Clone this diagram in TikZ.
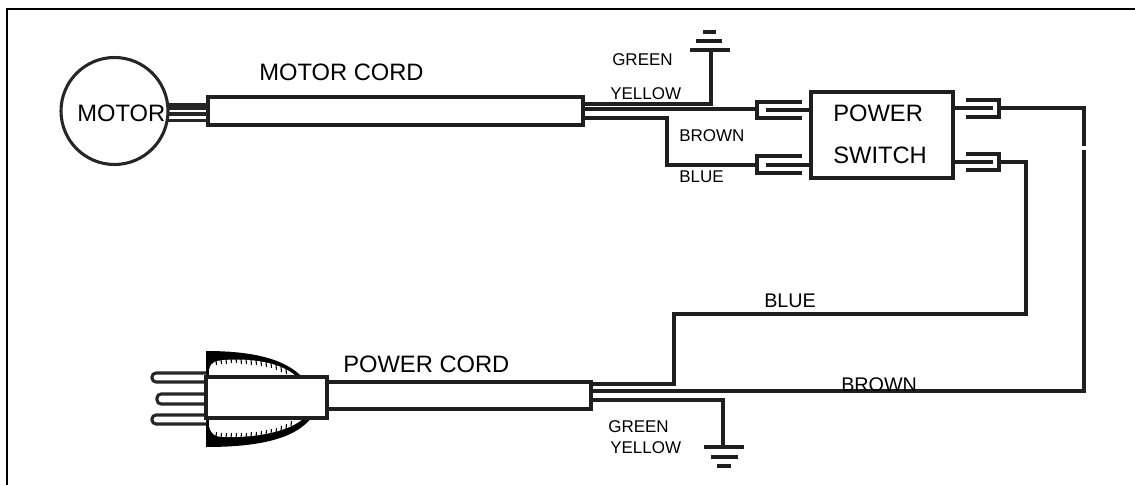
\documentclass[tikz,border=0pt]{standalone}
\usepackage{fontspec}
\setmainfont{Liberation Sans}
\begin{document}
\begin{tikzpicture}[x=0.75pt,y=-0.75pt,
  wire/.style={draw=black!88,line width=2.3pt,line join=miter},
  box/.style={draw=black!88,line width=2.3pt,fill=white,inner sep=0pt,outer sep=0pt,rectangle},
  big/.style={inner sep=0pt,anchor=base west,font=\fontsize{17.8}{20}\selectfont},
  mid/.style={inner sep=0pt,anchor=base west,font=\fontsize{14.8}{17}\selectfont},
  small/.style={inner sep=0pt,anchor=base west,font=\fontsize{12.75}{15}\selectfont},
  bar/.style={draw=black!88,line width=2.3pt},
  prong/.style={draw=black!85,line width=2.3pt,fill=white,rounded corners=3pt},
  tick/.style={draw=black,line width=0.8pt}]
\useasboundingbox (0,0) rectangle (1135,485);
\fill[white] (0,0) rectangle (1135,485);
\draw[black,line width=1.8pt] (7,485) -- (7,9) -- (1135,9);

% --- motor
\node[draw=black!85,line width=2.3pt,circle,minimum size=80.25pt,inner sep=0pt,outer sep=0pt] (motor) at (114.5,111) {};
\node[box,minimum width=281.25pt,minimum height=21pt,anchor=north west] (mcord) at (208,97) {};
\foreach \yy in {104.5,108,114,120.5}
  \draw[draw=black!85,line width=2.3pt] (167,\yy) -- (208,\yy);

% --- switch
\node[box,minimum width=106.5pt,minimum height=64.5pt,anchor=north west] (sw) at (811,92) {};

% --- left spade connectors
\coordinate (lu1) at (757,110);
\coordinate (lu2) at (757,165);
\draw[wire] (802,102) -- (757,102) -- (757,118) -- (802,118);
\draw[wire] (802,156) -- (757,156) -- (757,173) -- (802,173);
\draw[wire] (766,110) -- (sw.west |- lu1);
\draw[wire] (766,165) -- (sw.west |- lu2);

% --- right spade connectors
\coordinate (ru1) at (999,108);
\coordinate (ru2) at (999,162);
\draw[wire] (966,100) -- (999,100) -- (999,117) -- (966,117);
\draw[wire] (966,154) -- (999,154) -- (999,170) -- (966,170);
\draw[wire] (sw.east |- ru1) -- (993,108);
\draw[wire] (sw.east |- ru2) -- (993,162);

% --- motor cord wires
\coordinate (mg) at (711,104);
\coordinate (mgt) at (711,50);
\draw[wire] (mcord.east |- mg) -- (mg) -- (mgt);
\draw[wire] (mcord.east |- 0,109) -- (lu1 |- 0,109);
\coordinate (mb1) at (667,118);
\coordinate (mb2) at (667,165);
\draw[wire] (mcord.east |- mb1) -- (mb1) -- (mb2) -- (lu2);
\draw[bar] (690,50) -- (730,50);
\draw[bar,line width=3pt] (696,41) -- (722,41);
\draw[bar,line width=3pt] (703,32) -- (716,32);

% --- plug
\fill[black] (206,351) .. controls (250,351) and (285,358) .. (303,378) -- (206,378) -- cycle;
\fill[black] (206,447) .. controls (255,447) and (295,440) .. (312,417) -- (206,417) -- cycle;
\fill[white] (209,376) -- (209,370) .. controls (211,361) and (216,361) .. (224,360)
  .. controls (250,358) and (280,362) .. (296,376) -- cycle;
\fill[white] (209,418) -- (209,426) .. controls (211,435) and (216,437) .. (224,437)
  .. controls (258,438) and (290,431) .. (304,418) -- cycle;
\foreach \xx/\yy in {216/361,221/360,226/360,231/359,236/359,241/360,246/360,251/361,256/361,261/362,266/363,271/364,276/366,281/368,286/370}
  \draw[tick] (\xx,\yy-1) -- (\xx+.5,\yy+4);
\foreach \xx/\yy in {216/436,221/437,226/437,231/437,236/437,241/437,246/437,251/436,256/436,261/435,266/434,271/433,276/432,281/430,286/428,291/425}
  \draw[tick] (\xx,\yy+1) -- (\xx+.5,\yy-4);
\draw[prong] (206,373) -- (152,373) -- (152,382) -- (206,382);
\draw[prong] (206,394) -- (157,394) -- (157,404) -- (206,404);
\draw[prong] (206,415) -- (152,415) -- (152,424) -- (206,424);
\node[box,minimum width=90.75pt,minimum height=30.75pt,anchor=north west] (plug) at (206,377) {};

% --- power cord
\coordinate (pe) at (591,382);
\coordinate (pf) at (591,409);
\draw[wire] (plug.east |- pe) -- (pe) -- (pf) -- (plug.east |- pf);

\coordinate (pb1) at (674,384);
\coordinate (pb2) at (674,314);
\coordinate (pb3) at (1026,314);
\draw[wire] (pe |- pb1) -- (pb1) -- (pb2) -- (pb3) -- (pb3 |- ru2) -- (ru2);

\coordinate (pr1) at (1084,391);
\coordinate (gapb) at (1084,150);
\coordinate (gapt) at (1084,146);
\draw[wire] (pe |- pr1) -- (pr1) -- (gapb);
\draw[wire] (gapt) -- (1084,108) -- (ru1);

\coordinate (pg1) at (723,400);
\coordinate (pgt) at (723,447);
\draw[wire] (pe |- pg1) -- (pg1) -- (pgt);
\draw[bar] (704,447) -- (744,447);
\draw[bar,line width=3pt] (711,457) -- (738,457);
\draw[bar,line width=3pt] (717,466) -- (731,466);

% --- labels
\node[big] (lmotor) at (77,122) {MOTOR};
\node[big] (lmcord) at (259,81) {MOTOR CORD};
\node[big] (lpcord) at (343,372) {POWER CORD};
\node[big] (lpower) at (833,122) {POWER};
\node[big] (lswitch) at (833,163) {SWITCH};
\node[small] (lg1) at (612,65) {GREEN};
\node[small] (ly1) at (610,99) {YELLOW};
\node[small] (lbr1) at (679,141) {BROWN};
\node[small] (lbl1) at (679,182) {BLUE};
\node[small] (lg2) at (608,432) {GREEN};
\node[small] (ly2) at (610,453) {YELLOW};
\node[mid] (lbl2) at (764,307) {BLUE};
\node[mid] (lbr2) at (841,391) {BROWN};
\end{tikzpicture}
\end{document}
